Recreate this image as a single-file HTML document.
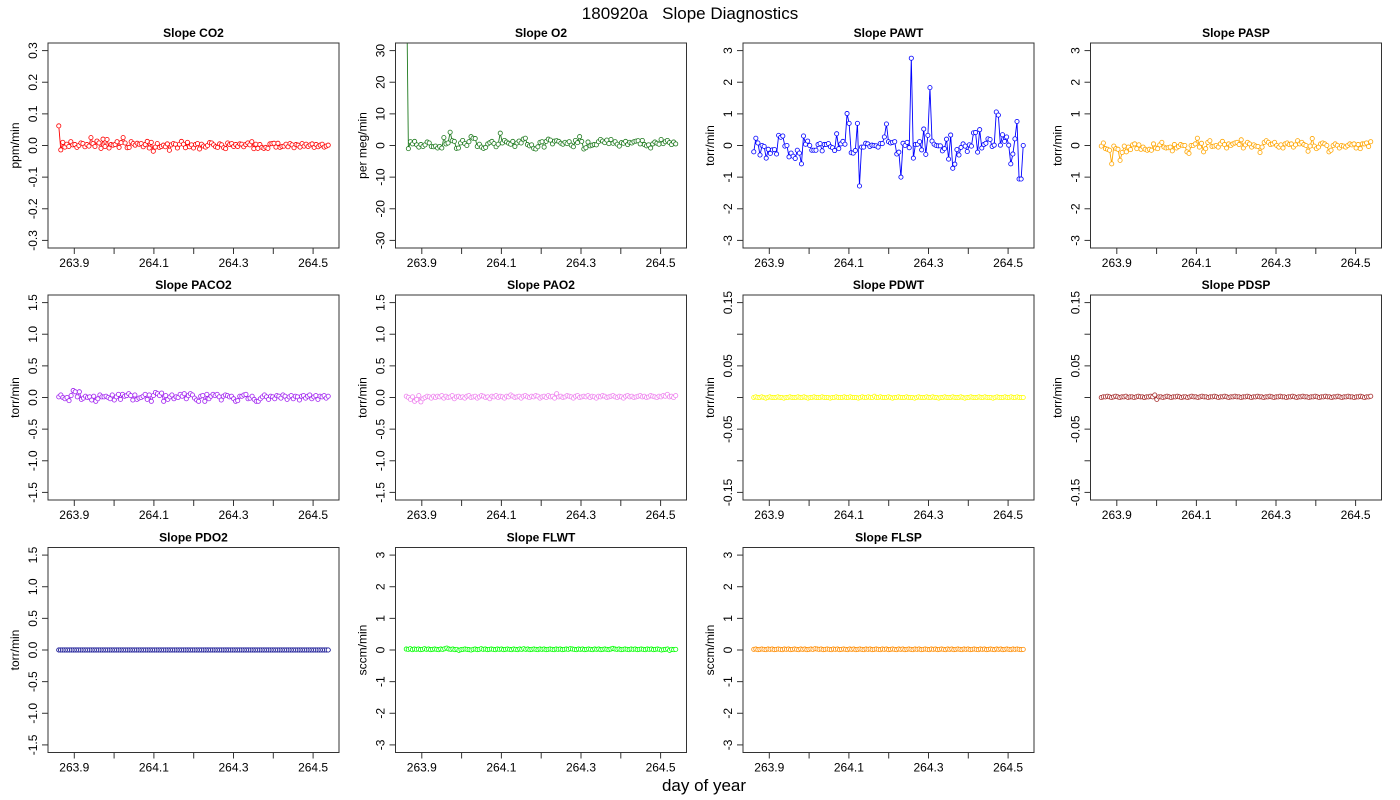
<!DOCTYPE html>
<html><head><meta charset="utf-8"><style>
html,body{margin:0;padding:0;background:#fff;}
svg{display:block;font-family:"Liberation Sans",sans-serif;}
</style></head><body>
<svg id="fig" width="1400" height="800" viewBox="0 0 1400 800">
<text x="690" y="19" font-size="17" text-anchor="middle" style="white-space:pre">180920a&#160;&#160;&#160;Slope Diagnostics</text>
<text x="704" y="791" font-size="17" text-anchor="middle">day of year</text>
</svg>
<script>
const startDay = 263.861;
const endDay = 264.538;
const xTicks = [263.9, 264.0, 264.1, 264.2, 264.3, 264.4, 264.5];
const xTickLabels = ["263.9", "", "264.1", "", "264.3", "", "264.5"];

const co2 = [0.062,-0.014,0.01,-0.005,0.004,-0.003,0.012,0.002,0.003,-0.006,0,0.008,0.006,-0.004,0.003,-0.002,0.025,0.006,-0.003,0.014,0.008,-0.009,0.02,-0.003,0.019,-0.008,0.003,0.001,0.003,0.012,-0.006,0.009,0.025,0.008,-0.007,-0.006,0.012,0.006,0.001,0.007,0.004,0.006,-0.004,0.003,0.013,-0.008,0.01,-0.018,-0.005,0.006,-0.006,-0.003,0.001,-0.004,0.005,-0.015,0.002,0.006,0.004,-0.008,0.004,0.013,0.004,-0.007,0.01,-0.004,0.002,-0.008,0.003,0.006,-0.011,0.004,-0.002,-0.005,0,0.009,0.008,0.002,-0.004,-0.006,0.005,0.002,-0.007,-0.01,0.008,0.003,0.006,-0.003,0.003,-0.003,0.005,0.004,-0.004,0.003,0.008,0.002,0.012,-0.01,0.004,-0.009,0.003,-0.006,-0.009,-0.006,-0.009,0.005,0.006,0.007,-0.005,0.007,-0.006,-0.003,-0.002,0.004,-0.004,0.006,0.002,-0.007,0.003,0.001,-0.005,0.006,-0.002,0.004,-0.003,0.002,0.005,-0.006,0.003,-0.004,0.001,0.004,-0.005,-0.002,0.001];
const o2 = [60,-1,1.2,0.5,1.3,0.2,-0.5,0.3,-0.3,0.2,1.1,0.8,-0.3,-0.4,-0.2,-0.8,-0.3,-0.8,2.5,0.5,0.8,4.2,1.5,1.3,-0.9,-0.8,0.8,1.6,0.6,0,1.2,2.8,2.3,2.2,-0.3,0.4,-0.5,-0.9,-0.6,0.5,0.9,1.3,0.6,-0.4,0.4,3.9,0.8,1.6,1.1,0.7,0.4,1.3,-0.3,0.8,1.4,0.8,2,2.3,0.3,-0.1,0.2,-0.9,-1.1,-0.4,1,1.2,-0.5,1.3,2,1.7,0.5,1.4,1.5,1.3,0.7,0.4,1,0.6,1.2,0.1,-0.4,1.6,0.9,2.8,1.3,-1.1,-0.7,1.1,-0.1,0.1,0.3,0.2,1.2,1.9,1.4,0.9,1.7,0.6,1.9,0.7,1.2,0.4,-0.2,0.9,0.7,1.3,0.3,1,0.8,1.2,1.4,1.5,0.5,1.6,0.3,-0.1,0.2,-0.8,0.5,1.1,0.7,0.4,1.9,0.6,1.2,1.6,0.9,0.3,1.1,0.5];
const pawt = [-0.2,0.23,0.08,-0.3,0,-0.03,-0.4,-0.12,-0.25,-0.14,-0.13,-0.27,0.32,0.26,0.3,-0.02,0,-0.36,-0.24,-0.34,-0.41,-0.15,-0.24,-0.58,0.3,0.04,0.14,0,-0.15,-0.15,-0.15,0.03,0.06,-0.17,0.03,0.03,0.06,-0.04,-0.07,-0.16,0.37,-0.1,0.05,0.13,0.04,1.01,0.7,-0.23,-0.24,-0.16,0.7,-1.28,-0.05,-0.05,0.07,0.05,-0.03,0.01,0,-0.01,-0.05,0.06,0.06,0.27,0.68,0.12,0.08,0.1,0.12,-0.27,-0.21,-1.0,0.07,0,0.1,-0.07,2.76,-0.4,0.03,0.04,0.12,-0.14,0.52,-0.28,0.32,1.83,0.14,0.04,0,-0.01,-0.01,-0.17,-0.1,0.2,-0.43,0.33,-0.72,-0.59,-0.13,-0.3,-0.06,0.05,-0.02,-0.19,0.02,-0.02,0.4,0.41,-0.21,0.5,-0.08,0.03,0.07,0.21,0.19,-0.03,0.01,1.06,0.96,0.01,0.34,0.13,0.27,0.01,-0.58,-0.27,0.21,0.76,-1.06,-1.06,0];
const pasp = [-0.02,0.08,-0.1,-0.12,-0.15,-0.58,-0.02,-0.1,-0.12,-0.47,-0.22,-0.02,-0.2,-0.05,-0.13,0.02,0.05,-0.1,0.02,-0.12,-0.05,-0.12,-0.15,-0.12,-0.15,0.05,-0.08,-0.1,0.02,0.1,-0.05,-0.08,-0.07,-0.05,-0.17,0.03,-0.08,-0.03,0.03,0,0,-0.2,-0.25,0,0,0.05,0.23,-0.05,0.07,-0.2,-0.1,0.1,0.15,-0.03,-0.02,0,-0.05,0.05,0.13,0.03,-0.08,0.05,0,0.05,0.08,0.1,0.03,0.18,-0.08,0.02,0.1,0.05,-0.05,0.02,-0.02,-0.03,-0.22,-0.05,0.1,0.15,0.1,0.03,0.05,0.1,0,-0.05,0.02,-0.08,0.05,0.08,0.03,0.05,-0.05,0.02,0.15,0.05,0.1,0.03,0,-0.18,-0.02,0.22,-0.02,-0.1,-0.05,0.05,0.08,0.05,0,-0.2,-0.15,0,0.05,0,-0.08,0,-0.02,-0.05,0,0.05,0.02,0.05,-0.08,0.03,-0.1,0.05,0.05,0.08,-0.03,0.12];
const paco2 = [0.01,0.04,0,-0.02,0,-0.05,0.03,0.11,0.09,0.01,0.09,-0.03,-0.01,0.02,0,0.01,-0.04,0.02,-0.06,-0.02,0.04,0.01,0.01,0.02,0,-0.02,0.04,-0.04,0.01,0.05,-0.03,0.05,0.02,0.03,0.06,0.03,-0.04,0.04,-0.03,-0.01,0,0.02,0.05,-0.03,0.04,-0.06,0.03,0.08,0.06,0.03,0.07,-0.06,0.03,-0.03,0.01,0.04,-0.02,0.01,0,0.05,0.02,0.06,-0.02,0.03,0.06,0.04,-0.01,-0.04,-0.06,0.02,0.03,-0.06,0.05,-0.02,0.02,0.05,0.03,0.05,0.01,-0.04,0.02,0.04,0.03,0.01,0.02,-0.02,-0.06,-0.05,0.02,0.02,0.04,0.05,-0.02,-0.01,0.02,-0.03,-0.06,-0.06,-0.02,0.01,0.04,0.01,-0.03,0.02,0.01,-0.02,0.03,0.02,-0.01,0.04,0.02,-0.03,0.01,0.03,-0.02,0.02,0.01,-0.04,0.02,0.03,-0.01,0.02,0.04,-0.02,0.01,0.03,-0.03,0.02,0.01,0.03,-0.01,0.02];
const pao2 = [0.02,0,-0.03,0.01,-0.06,-0.03,0.03,-0.07,-0.02,0,0.02,0.01,-0.01,0.02,0,0.02,0.01,0.03,-0.01,0.02,0,0.01,0.03,-0.02,0.01,0.02,0,0.01,-0.01,0.02,0.03,0,0.01,0.02,-0.01,0.01,0.03,0.02,0,0.01,-0.02,0.02,0.01,0.03,0,0.02,0.01,-0.01,0.02,0.01,0.04,0.02,0,0.01,0.02,-0.01,0.02,0.03,0.01,0,0.02,0.01,0.03,0.02,-0.01,0.01,0.02,0,0.03,0.01,0.02,-0.01,0.06,0.01,0.02,0,0.01,0.03,0.02,0.01,-0.01,0.02,0.03,0,0.01,0.02,0.01,0.03,0,0.02,0.01,-0.01,0.02,0.01,0.03,0.02,0,0.01,0.02,0.03,0.01,0,0.02,0.01,-0.01,0.02,0.03,0.01,0.02,0,0.01,0.02,0.03,0.01,0.02,0,0.01,0.03,0.02,0.01,0,0.02,0.01,0.03,0.02,0.05,0.01,0.02,0,0.03];
const pdwt = [0,0.001,0,0,0.001,0,-0.001,0,0.001,0,0,0,0.001,0,0,-0.001,0,0,0.001,0,0,0,0.001,0,0,0.001,0,-0.001,0,0,0.001,0,0,0,0.001,0,0,0,-0.001,0,0,0.001,0,0,0,0.001,0,0,0.001,0,0,0,-0.001,0,0.001,0,0,0.001,0,0,0.002,0,0,0.001,0,0,0,0.001,0,-0.001,0,0,0.001,0,0,0,0.001,0,0,0,-0.001,0,0.001,0,0,0,0.001,0,0,0.001,0,0,-0.001,0,0,0.001,0,0,0,0.001,0,0,0,0.001,0,-0.001,0,0,0.001,0,0,0,0.001,0,0,0.001,0,0,0,-0.001,0,0.001,0,0,0,0.001,0,0,0.001,0,0,0.001,0,0,0];
const pdsp = [0,0.001,0.001,0.002,0.001,0,0.001,0.002,0.001,0,0.001,0.001,0.002,0,0.001,0.001,0,0.001,0.002,0.001,0.001,0,0.001,0.001,0.002,0.001,0.004,-0.003,0.001,0.001,0,0.001,0.002,0.001,0,0.001,0.001,0.002,0.001,0,0.001,0.001,0,0.001,0.002,0.001,0.001,0,0.001,0.002,0.001,0.001,0,0.001,0.001,0.002,0.001,0,0.001,0.001,0.002,0.001,0,0.001,0.001,0.002,0.001,0.001,0,0.001,0.001,0.002,0.001,0,0.001,0.001,0.002,0.001,0.001,0,0.001,0.001,0.002,0.001,0,0.001,0.001,0.002,0.001,0.001,0,0.001,0.001,0.002,0.001,0,0.001,0.001,0.002,0.001,0.001,0,0.001,0.001,0.002,0.001,0,0.001,0.001,0.002,0.001,0.001,0,0.001,0.001,0.002,0.001,0,0.001,0.001,0.002,0.001,0.001,0,0.001,0.001,0.002,0.001,0,0.001,0.001,0.002];
const pdo2 = [0,0,0,0,0,0,0,0,0,0,0,0,0,0,0,0,0,0,0,0,0,0,0,0,0,0,0,0,0,0,0,0,0,0,0,0,0,0,0,0,0,0,0,0,0,0,0,0,0,0,0,0,0,0,0,0,0,0,0,0,0,0,0,0,0,0,0,0,0,0,0,0,0,0,0,0,0,0,0,0,0,0,0,0,0,0,0,0,0,0,0,0,0,0,0,0,0,0,0,0,0,0,0,0,0,0,0,0,0,0,0,0,0,0,0,0,0,0,0,0,0,0,0,0,0,0,0,0,0,0,0,0,0,0,0,0,0,0,0,0,0,0,0,0,0,0,0,0,0,0];
const flwt = [0.03,0.02,0.04,0.01,0.03,0.02,0.03,0.01,0.02,0.04,0.02,0.03,0.01,0.02,0.03,0.02,0.01,0.03,0.02,0.04,0.06,0.03,0.02,0.03,0.01,0.02,-0.01,0.01,0.02,0.03,0.02,0.01,0,0.02,0.03,0.01,0.02,0.04,0.02,0.03,0.01,0.02,0.03,0.02,0.01,0.03,0.02,0.03,0.01,0.02,0.03,0.02,0.01,0.03,0.02,0.01,0.03,0.02,0.04,0.02,0.03,0.01,0.02,0.03,0.02,0.01,0.03,0.02,0.03,0.01,0.02,0.03,0.02,0.01,0.03,0.02,0.03,0.01,0.02,0.03,0.02,0.04,0.03,0.02,0.01,0.03,0.02,0.03,0.01,0.02,0.03,0.02,0.01,0.03,0.02,0.03,0.01,0.02,0.03,0.02,0.01,0.03,0.05,0.03,0.02,0.03,0.01,0.02,0.03,0.02,0.01,0.03,0.02,0.03,0.01,0.02,0.03,0.02,0.01,0.03,0.02,0.03,0.01,0.02,0.03,0.02,0,0.01,0.02,0.03,-0.01,0.02,0.01,0.02];
const flsp = [0.02,0.03,0.01,0.02,0.03,0.02,0.01,0.03,0.02,0.03,0.01,0.02,0.03,0.02,0.01,0.03,0.02,0.03,0.01,0.02,0.03,0.02,0.01,0.03,0.02,0.03,0.01,0.02,0.03,0.02,0.04,0.03,0.02,0.03,0.01,0.02,0.03,0.02,0.01,0.03,0.02,0.03,0.01,0.02,0.03,0.02,0.01,0.03,0.02,0.03,0.01,0.02,0.03,0.02,0.01,0.03,0.02,0.03,0.01,0.02,0.03,0.02,0.01,0.03,0.02,0.03,0.01,0.02,0.03,0.02,0.01,0.03,0.02,0.03,0.01,0.02,0.03,0.02,0.01,0.03,0.02,0.03,0.01,0.02,0.03,0.02,0.01,0.03,0.02,0.03,0.01,0.02,0.03,0.02,0.01,0.03,0.02,0.03,0.01,0.02,0.03,0.02,0.01,0.03,0.02,0.03,0.01,0.02,0.03,0.02,0.01,0.03,0.02,0.03,0.01,0.02,0.03,0.02,0.01,0.03,0.02,0.03,0.01,0.02,0.03,0.02,0.01,0.03,0.02,0.03,0.02,0.01,0.02];

const ticksCO2 = [-0.3,-0.2,-0.1,0,0.1,0.2,0.3];
const labelsCO2 = ["-0.3","-0.2","-0.1","0.0","0.1","0.2","0.3"];
const ticksO2 = [-30,-20,-10,0,10,20,30];
const labelsO2 = ["-30","-20","-10","0","10","20","30"];
const ticks3 = [-3,-2,-1,0,1,2,3];
const labels3 = ["-3","-2","-1","0","1","2","3"];
const ticks15 = [-1.5,-1,-0.5,0,0.5,1,1.5];
const labels15 = ["-1.5","-1.0","-0.5","0.0","0.5","1.0","1.5"];
const ticks015 = [-0.15,-0.1,-0.05,0,0.05,0.1,0.15];
const labels015 = ["-0.15","","-0.05","","0.05","","0.15"];

const panels = [
 {name:"co2",title:"Slope CO2",unit:"ppm/min",data:co2,color:"#FF0000",lim:0.3,ticks:ticksCO2,labels:labelsCO2,col:0,row:0},
 {name:"o2",title:"Slope O2",unit:"per meg/min",data:o2,color:"#1f7a1f",lim:30,ticks:ticksO2,labels:labelsO2,col:1,row:0},
 {name:"pawt",title:"Slope PAWT",unit:"torr/min",data:pawt,color:"#0000FF",lim:3,ticks:ticks3,labels:labels3,col:2,row:0},
 {name:"pasp",title:"Slope PASP",unit:"torr/min",data:pasp,color:"#FFA500",lim:3,ticks:ticks3,labels:labels3,col:3,row:0},
 {name:"paco2",title:"Slope PACO2",unit:"torr/min",data:paco2,color:"#A020F0",lim:1.5,ticks:ticks15,labels:labels15,col:0,row:1},
 {name:"pao2",title:"Slope PAO2",unit:"torr/min",data:pao2,color:"#EE82EE",lim:1.5,ticks:ticks15,labels:labels15,col:1,row:1},
 {name:"pdwt",title:"Slope PDWT",unit:"torr/min",data:pdwt,color:"#FFFF00",lim:0.15,ticks:ticks015,labels:labels015,col:2,row:1},
 {name:"pdsp",title:"Slope PDSP",unit:"torr/min",data:pdsp,color:"#A52A2A",lim:0.15,ticks:ticks015,labels:labels015,col:3,row:1},
 {name:"pdo2",title:"Slope PDO2",unit:"torr/min",data:pdo2,color:"#00008B",lim:1.5,ticks:ticks15,labels:labels15,col:0,row:2},
 {name:"flwt",title:"Slope FLWT",unit:"sccm/min",data:flwt,color:"#00FF00",lim:3,ticks:ticks3,labels:labels3,col:1,row:2},
 {name:"flsp",title:"Slope FLSP",unit:"sccm/min",data:flsp,color:"#FF8C00",lim:3,ticks:ticks3,labels:labels3,col:2,row:2}
];

const NS = "http://www.w3.org/2000/svg";
const svg = document.getElementById("fig");
function mk(tag, attrs, parent){
  const e = document.createElementNS(NS, tag);
  for (const k in attrs) e.setAttribute(k, attrs[k]);
  parent.appendChild(e);
  return e;
}
const colX = [48, 395.5, 743, 1090.5];
const rowY = [43, 295, 547.5];
const W = 291, H = 205;
const defs = mk("defs", {}, svg);

panels.forEach(function(p, pi){
  const L = colX[p.col], T = rowY[p.row], R = L + W, B = T + H;
  const g = mk("g", {}, svg);
  
  
  const range = endDay - startDay;
  const x0 = startDay - 0.04 * range, x1 = endDay + 0.04 * range;
  const sx = function(v){ return L + (v - x0) / (x1 - x0) * W; };
  const y0 = -p.lim * 1.08, y1 = p.lim * 1.08;
  const sy = function(v){ return B - (v - y0) / (y1 - y0) * H; };

  const cp = mk("clipPath", {id: "clip" + pi}, defs);
  mk("rect", {x: L, y: T, width: W, height: H}, cp);

  const n = p.data.length;
  const xs = p.data.map(function(_, i){ return startDay + i * (endDay - startDay) / (n - 1); });
  const pts = p.data.map(function(v, i){ return sx(xs[i]).toFixed(2) + "," + sy(v).toFixed(2); }).join(" ");
  const line = mk("polyline", {points: pts, fill: "none", stroke: p.color, "stroke-width": 0.9, "clip-path": "url(#clip" + pi + ")"}, g);
  
  
  const pg = mk("g", {"clip-path": "url(#clip" + pi + ")"}, g);
  
  
  p.data.forEach(function(v, i){
    const c = mk("circle", {cx: sx(xs[i]).toFixed(2), cy: sy(v).toFixed(2), r: 2.1, fill: "#fff", stroke: p.color, "stroke-width": 0.8}, pg);
    
    
  });

  const box = mk("rect", {x: L, y: T, width: W, height: H, fill: "none", stroke: "#333", "stroke-width": 1}, g);
  
  

  const title = mk("text", {x: L + W / 2, y: T - 6, "font-size": 12, "font-weight": "bold", "text-anchor": "middle"}, g);
  title.textContent = p.title;
  
  

  const xa = mk("g", {}, g);
  
  
  mk("line", {x1: sx(xTicks[0]), x2: sx(xTicks[xTicks.length - 1]), y1: B, y2: B, stroke: "#333"}, xa);
  xTicks.forEach(function(t, i){
    mk("line", {x1: sx(t), x2: sx(t), y1: B, y2: B + 6, stroke: "#333"}, xa);
    if (xTickLabels[i]) {
      const tx = mk("text", {x: sx(t), y: B + 19, "font-size": 12, "text-anchor": "middle"}, xa);
      tx.textContent = xTickLabels[i];
      
      
    }
  });
  const ya = mk("g", {}, g);
  
  
  mk("line", {x1: L, x2: L, y1: sy(p.ticks[0]), y2: sy(p.ticks[p.ticks.length - 1]), stroke: "#333"}, ya);
  p.ticks.forEach(function(t, i){
    mk("line", {x1: L - 6, x2: L, y1: sy(t), y2: sy(t), stroke: "#333"}, ya);
    if (p.labels[i]) {
      const ty = mk("text", {x: L - 11, y: sy(t), "font-size": 12, "text-anchor": "middle", transform: "rotate(-90 " + (L - 11) + " " + sy(t) + ")"}, ya);
      ty.textContent = p.labels[i];
      
      
    }
  });
  const yt = mk("text", {x: L - 29, y: T + H / 2, "font-size": 12, "text-anchor": "middle", transform: "rotate(-90 " + (L - 29) + " " + (T + H / 2) + ")"}, g);
  yt.textContent = p.unit;
  
  
});
</script>
</body></html>
